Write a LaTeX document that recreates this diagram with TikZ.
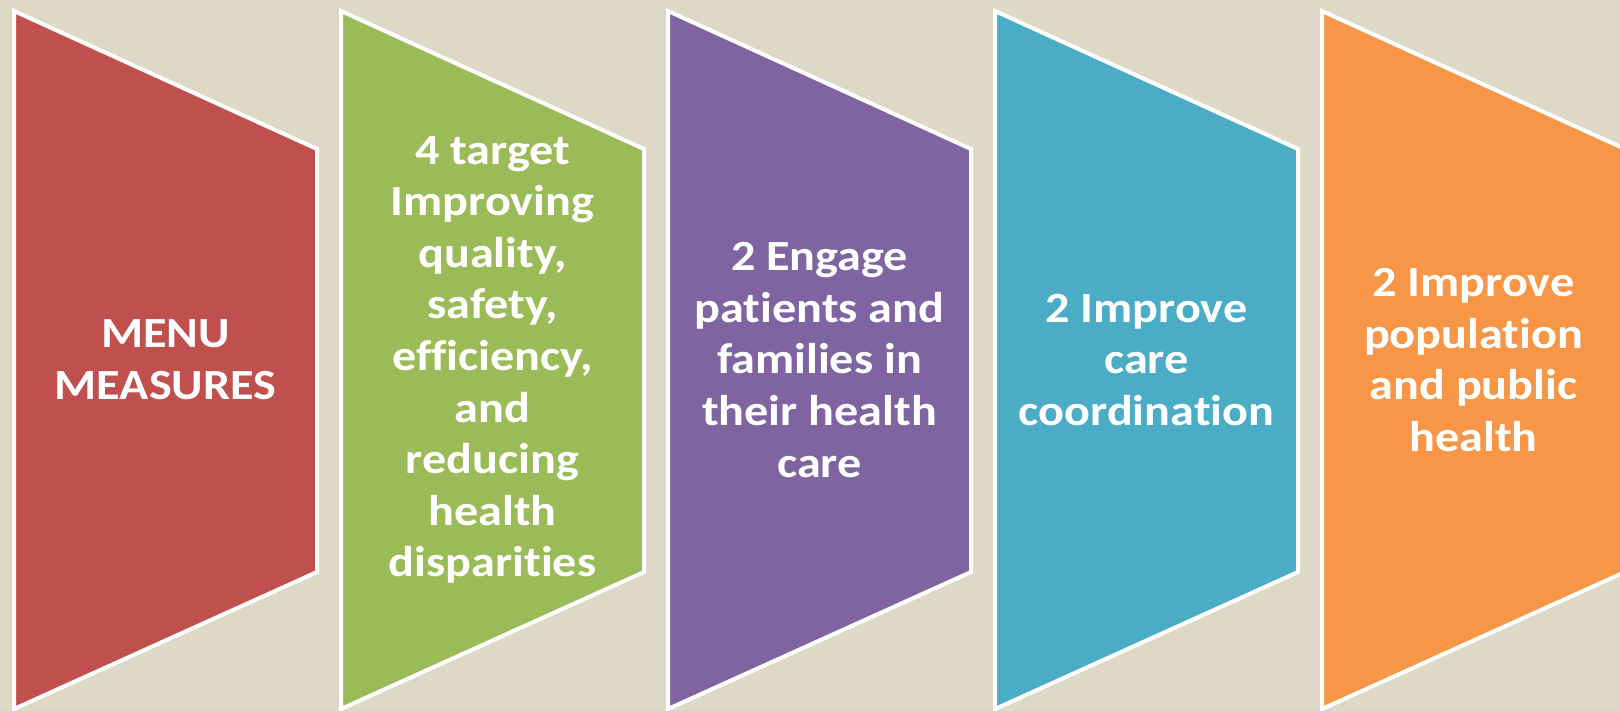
\documentclass[tikz,border=0pt]{standalone}
\usepackage{fontspec}
\setmainfont{Carlito}[FakeStretch=1.12,Ligatures=NoCommon]
\definecolor{bgtan}{HTML}{DED8C6}
\definecolor{menured}{HTML}{C0504D}
\definecolor{stepgreen}{HTML}{9BBB59}
\definecolor{steppurple}{HTML}{8064A2}
\definecolor{stepblue}{HTML}{4BACC6}
\definecolor{steporange}{HTML}{F79646}
\begin{document}
\begin{tikzpicture}[x=0.5pt,y=-0.5pt,
    chevron/.style={draw=white,line width=2pt,line join=miter},
    boxtext/.style={text=white,align=center,
      font=\bfseries\fontsize{21.5}{25.8}\selectfont}]
  \fill[bgtan] (0,0) rectangle (1620,711);
  \useasboundingbox (0,0) rectangle (1620,711);
  \clip (0,0) rectangle (1620,711);
  \foreach \i/\col/\txt in {
      0/menured/{MENU\\MEASURES},
      1/stepgreen/{4 target\\Improving\\quality,\\safety,\\efficiency,\\and\\reducing\\health\\disparities},
      2/steppurple/{2 Engage\\patients and\\families in\\their health\\care},
      3/stepblue/{2 Improve\\care\\coordination},
      4/steporange/{2 Improve\\population\\and public\\health}}{
    \pgfmathsetmacro{\x}{14+\i*327}
    \path[chevron,fill=\col] (\x,11) -- (\x+303,149) -- (\x+303,572)
      -- (\x,709) -- cycle;
    \node[boxtext] (step\i) at (\x+151.5,360) {\txt};
  }
\end{tikzpicture}
\end{document}
